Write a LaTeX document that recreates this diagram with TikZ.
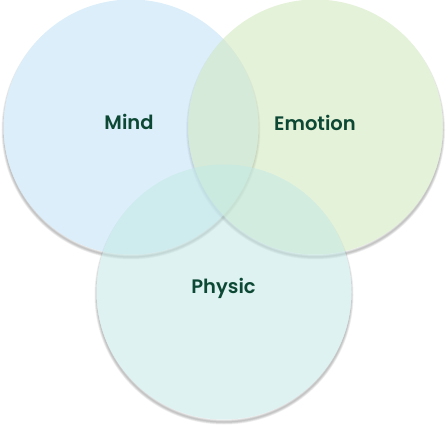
\documentclass[tikz,border=0pt]{standalone}
\usepackage{fontspec}
\newfontfamily\popsb{Poppins SemiBold}
\definecolor{mindc}{RGB}{191,224,246}
\definecolor{emoc}{RGB}{208,231,188}
\definecolor{phyc}{RGB}{195,233,230}
\definecolor{labc}{RGB}{12,72,52}
\begin{document}
\begin{tikzpicture}[x=1pt,y=-1pt,
  setc/.style={circle, minimum size=255pt, inner sep=0pt, fill opacity=0.55},
  lab/.style={font=\popsb\fontsize{19.5}{20}\selectfont, text=labc, inner sep=0pt}]
\useasboundingbox (0,0) rectangle (446,427);
% shadows
\foreach \cx/\cy in {131/127, 315.5/127, 224/292}{
  \begin{scope}[even odd rule]
    \clip (-20,-20) rectangle (470,450) (\cx,\cy) circle (127.5);
    \foreach \w in {1,2,3,4,5}
      \draw[black, opacity=0.05, line width=\w pt] (\cx,\cy+3) circle (127);
  \end{scope}
}
\node[setc, fill=mindc] (mind) at (131,127) {};
\node[setc, fill=emoc] (emotion) at (315.5,127) {};
\node[setc, fill=phyc] (physic) at (224,292) {};
\node[lab] (lmind) at (129,122) {Mind};
\node[lab] (lemotion) at (315,122.5) {Emotion};
\node[lab] (lphysic) at (223.5,288.5) {Physic};
\end{tikzpicture}
\end{document}
